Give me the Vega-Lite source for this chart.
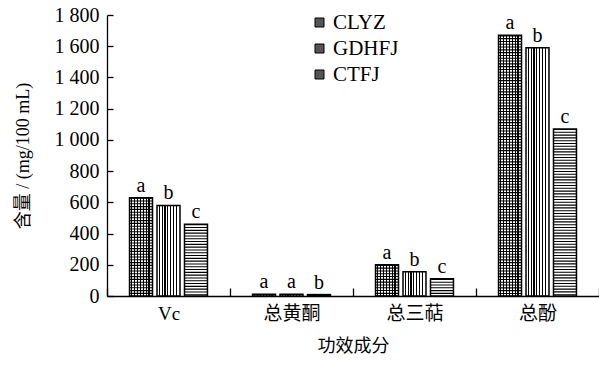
{
  "$schema": "https://vega.github.io/schema/vega-lite/v6.json",
  "autosize": "none",
  "width": 492,
  "height": 281,
  "padding": {"left": 107, "top": 15, "right": 0, "bottom": 71},
  "background": "white",
  "config": {"view": {"stroke": null}},
  "data": {
    "values": [
      {"component": "Vc", "series": "CLYZ", "value": 630, "label": "a"},
      {"component": "Vc", "series": "GDHFJ", "value": 580, "label": "b"},
      {"component": "Vc", "series": "CTFJ", "value": 460, "label": "c"},
      {"component": "总黄酮", "series": "CLYZ", "value": 12, "label": "a"},
      {"component": "总黄酮", "series": "GDHFJ", "value": 11, "label": "a"},
      {"component": "总黄酮", "series": "CTFJ", "value": 9, "label": "b"},
      {"component": "总三萜", "series": "CLYZ", "value": 200, "label": "a"},
      {"component": "总三萜", "series": "GDHFJ", "value": 155, "label": "b"},
      {"component": "总三萜", "series": "CTFJ", "value": 110, "label": "c"},
      {"component": "总酚", "series": "CLYZ", "value": 1670, "label": "a"},
      {"component": "总酚", "series": "GDHFJ", "value": 1590, "label": "b"},
      {"component": "总酚", "series": "CTFJ", "value": 1070, "label": "c"}
    ]
  },
  "encoding": {
    "x": {
      "field": "component",
      "type": "nominal",
      "sort": ["Vc", "总黄酮", "总三萜", "总酚"],
      "scale": {"paddingInner": 0, "paddingOuter": 0},
      "axis": {
        "title": "功效成分",
        "labelAngle": 0,
        "tickBand": "extent",
        "tickSize": -8,
        "tickColor": "black",
        "tickWidth": 1.3,
        "domainColor": "black",
        "domainWidth": 1.3,
        "labelFont": "Liberation Serif, Noto Sans CJK SC",
        "labelFontSize": 19,
        "labelColor": "black",
        "labelPadding": 16,
        "titleFont": "Liberation Serif, Noto Sans CJK SC",
        "titleFontSize": 18,
        "titleFontWeight": "normal",
        "titleColor": "black",
        "titlePadding": 14,
        "grid": false
      }
    },
    "xOffset": {
      "field": "series",
      "type": "nominal",
      "sort": ["CLYZ", "GDHFJ", "CTFJ"],
      "scale": {"paddingInner": 0.164, "paddingOuter": 0.82}
    },
    "y": {
      "field": "value",
      "type": "quantitative",
      "scale": {"domain": [0, 1800], "nice": false},
      "axis": {
        "title": "含量 / (mg/100 mL)",
        "values": [0, 200, 400, 600, 800, 1000, 1200, 1400, 1600, 1800],
        "labelExpr": "replace(format(datum.value, ','), ',', ' ')",
        "labelOverlap": false,
        "tickSize": -6,
        "tickColor": "black",
        "tickWidth": 1.3,
        "domainColor": "black",
        "domainWidth": 1.3,
        "labelFont": "Liberation Serif",
        "labelFontSize": 20,
        "labelColor": "black",
        "labelPadding": 14,
        "titleFont": "Liberation Serif, Noto Sans CJK SC",
        "titleFontSize": 18,
        "titleFontWeight": "normal",
        "titleColor": "black",
        "titlePadding": 22,
        "grid": false
      }
    }
  },
  "layer": [
    {
      "mark": {"type": "bar", "strokeWidth": 0},
      "encoding": {
        "fill": {
          "condition": {
            "test": "datum.series !== 'CTFJ'",
            "value": {
              "gradient": "linear",
              "x1": 0, "y1": 0, "x2": 1, "y2": 0,
              "stops": [
                {"offset": 0, "color": "white"},
                {"offset": 0.075, "color": "white"},
                {"offset": 0.075, "color": "black"},
                {"offset": 0.125, "color": "black"},
                {"offset": 0.125, "color": "white"},
                {"offset": 0.2, "color": "white"},
                {"offset": 0.2, "color": "black"},
                {"offset": 0.25, "color": "black"},
                {"offset": 0.25, "color": "white"},
                {"offset": 0.325, "color": "white"},
                {"offset": 0.325, "color": "black"},
                {"offset": 0.375, "color": "black"},
                {"offset": 0.375, "color": "white"},
                {"offset": 0.45, "color": "white"},
                {"offset": 0.45, "color": "black"},
                {"offset": 0.5, "color": "black"},
                {"offset": 0.5, "color": "white"},
                {"offset": 0.575, "color": "white"},
                {"offset": 0.575, "color": "black"},
                {"offset": 0.625, "color": "black"},
                {"offset": 0.625, "color": "white"},
                {"offset": 0.7, "color": "white"},
                {"offset": 0.7, "color": "black"},
                {"offset": 0.75, "color": "black"},
                {"offset": 0.75, "color": "white"},
                {"offset": 0.825, "color": "white"},
                {"offset": 0.825, "color": "black"},
                {"offset": 0.875, "color": "black"},
                {"offset": 0.875, "color": "white"},
                {"offset": 1, "color": "white"}
              ]
            }
          },
          "value": "white"
        }
      }
    },
    {
      "transform": [{"filter": "datum.series !== 'GDHFJ'"}],
      "mark": {"type": "rule", "color": "black", "strokeWidth": 23, "strokeDash": [1.1, 1.7], "strokeCap": "butt"},
      "encoding": {
        "y2": {"datum": 0}
      }
    },
    {
      "mark": {"type": "bar", "fillOpacity": 0, "stroke": "black", "strokeWidth": 1.5},
      "encoding": {
        "color": {
          "field": "series",
          "type": "nominal",
          "sort": ["CLYZ", "GDHFJ", "CTFJ"],
          "scale": {"range": ["#555555", "#555555", "#555555"]},
          "legend": {
            "title": null,
            "orient": "none",
            "legendX": 202,
            "legendY": -3,
            "padding": 0,
            "symbolType": "square",
            "symbolSize": 81,
            "symbolStrokeColor": "black",
            "symbolStrokeWidth": 1,
            "symbolOpacity": 1,
            "labelFont": "Liberation Serif",
            "labelFontSize": 21,
            "labelColor": "black",
            "labelOffset": 3,
            "rowPadding": 4,
            "encode": {"symbols": {"update": {"fillOpacity": {"value": 1}}}}
          }
        }
      }
    },
    {
      "mark": {"type": "text", "baseline": "bottom", "dy": -2, "fontSize": 20, "font": "Liberation Serif", "color": "black"},
      "encoding": {
        "text": {"field": "label"}
      }
    }
  ]
}
